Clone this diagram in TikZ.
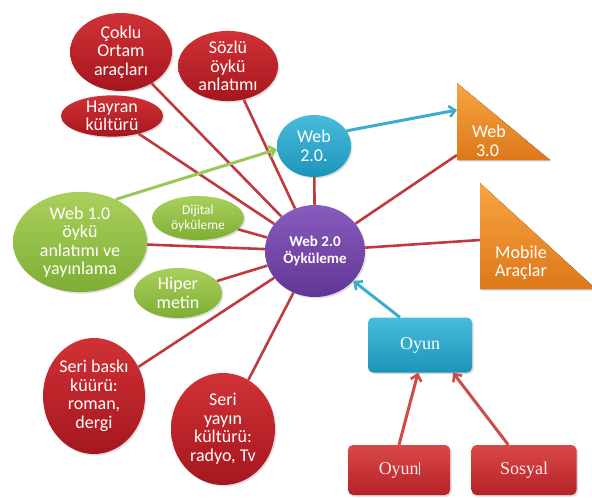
\documentclass[tikz,border=0pt]{standalone}
\usepackage{fontspec}
\setmainfont{Carlito}
\newfontfamily\boxfont{Liberation Serif}
\usetikzlibrary{shapes.geometric,arrows.meta,backgrounds,shadows}

\definecolor{redtop}{RGB}{208,50,54}
\definecolor{redbot}{RGB}{166,22,30}
\definecolor{rboxtop}{RGB}{218,72,70}
\definecolor{rboxbot}{RGB}{180,34,40}
\definecolor{greentop}{RGB}{170,208,92}
\definecolor{greenbot}{RGB}{126,174,52}
\definecolor{bluetop}{RGB}{72,188,218}
\definecolor{bluebot}{RGB}{28,148,186}
\definecolor{purptop}{RGB}{136,92,190}
\definecolor{purpbot}{RGB}{98,54,148}
\definecolor{orgtop}{RGB}{248,164,66}
\definecolor{orgbot}{RGB}{222,120,26}
\definecolor{spoke}{RGB}{190,58,62}
\definecolor{greenarrow}{RGB}{150,200,90}
\definecolor{bluearrow}{RGB}{62,172,204}
\definecolor{redarrow}{RGB}{206,76,72}

\tikzset{
  bubble/.style={ellipse, inner sep=0pt, align=center, text=white,
    drop shadow={opacity=0.25, shadow xshift=1.5pt, shadow yshift=-1.5pt}},
  redbubble/.style={bubble, top color=redtop, bottom color=redbot},
  greenbubble/.style={bubble, top color=greentop, bottom color=greenbot},
  bluebubble/.style={bubble, top color=bluetop, bottom color=bluebot},
  hubbubble/.style={bubble, top color=purptop, bottom color=purpbot},
  tagbox/.style={rectangle, rounded corners=5pt, inner sep=0pt, text=white,
    font=\boxfont\fontsize{18}{20}\selectfont,
    drop shadow={opacity=0.3, shadow xshift=1.5pt, shadow yshift=-1.5pt}},
  bluebox/.style={tagbox, top color=bluetop, bottom color=bluebot},
  redbox/.style={tagbox, top color=rboxtop, bottom color=rboxbot, text=white!92!red},
  wedge/.style={top color=orgtop, bottom color=orgbot,
    drop shadow={opacity=0.25, shadow xshift=1.5pt, shadow yshift=-1.5pt}},
  bigtxt/.style={font=\fontsize{18}{18.5}\selectfont},
  midtxt/.style={font=\fontsize{18}{17.5}\selectfont},
  smalltxt/.style={font=\fontsize{13.5}{15}\selectfont},
  spokeline/.style={draw=spoke, line width=2.6pt},
  arrowline/.style={line width=3pt, -{Straight Barb[length=6pt,width=11pt,line width=2.6pt]}},
}

\begin{document}
\begin{tikzpicture}[x=1pt, y=-1pt]
  \useasboundingbox (0,0) rectangle (592,498);

  % hub and satellites
  \node[hubbubble, minimum width=100pt, minimum height=92pt,
        font=\bfseries\fontsize{15}{17}\selectfont] (hub) at (315,251) {Web 2.0\\Öyküleme};
  \node[redbubble, bigtxt, minimum width=102pt, minimum height=78pt] (coklu) at (121,52) {Çoklu\\Ortam\\araçları};
  \node[redbubble, bigtxt, minimum width=100pt, minimum height=64pt] (sozlu) at (228,66) {Sözlü\\öykü\\anlatımı};
  \node[redbubble, midtxt, minimum width=102pt, minimum height=38pt] (hayran) at (112,116) {Hayran\\kültürü};
  \node[bluebubble, bigtxt, minimum width=74pt, minimum height=62pt] (web2) at (314,146) {Web\\2.0.};
  \node[greenbubble, bigtxt, minimum width=134pt, minimum height=98pt] (web1) at (80,242) {Web 1.0\\öykü\\anlatımı ve\\yayınlama};
  \node[greenbubble, smalltxt, minimum width=92pt, minimum height=44pt] (dijital) at (198,218) {Dijital\\öyküleme};
  \node[greenbubble, bigtxt, minimum width=88pt, minimum height=50pt] (hiper) at (178,293) {Hiper\\metin};
  \node[redbubble, bigtxt, minimum width=102pt, minimum height=116pt] (baski) at (94,396) {Seri baskı\\küürü:\\roman,\\dergi};
  \node[redbubble, bigtxt, minimum width=104pt, minimum height=112pt] (yayin) at (223,429) {Seri\\yayın\\kültürü:\\radyo, Tv};

  % right-angled wedges
  \fill[wedge] (457,83) -- (457,160) -- (550,160) -- cycle;
  \node[bigtxt, text=white, align=left] (web3) at (489,141) {Web\\\hspace*{4pt}3.0};
  \coordinate (web3arrow) at (457,110);
  \coordinate (web3spoke) at (457,155);

  \fill[wedge] (480,183) -- (480,289) -- (596,289) -- cycle;
  \node[midtxt, text=white, align=left] (mobile) at (521,263) {Mobile\\Araçlar};
  \coordinate (mobilespoke) at (480,240);

  % game boxes
  \node[bluebox, minimum width=104pt, minimum height=55pt] (oyun) at (420,345) {Oyun};
  \node[redbox, minimum width=102pt, minimum height=50pt] (oyunsrc) at (399,470)
       {Oyun\textcolor{white!80!gray}{\rule[-1pt]{0.5pt}{13pt}}};
  \node[redbox, minimum width=105pt, minimum height=50pt] (sosyal) at (524,470) {Sosyal};

  \begin{pgfonlayer}{background}
    \foreach \n in {coklu, sozlu, hayran, web2, web1, dijital, hiper, baski, yayin}
      \draw[spokeline] (hub) -- (\n);
    \draw[spokeline] (hub) -- (web3spoke);
    \draw[spokeline] (hub) -- (mobilespoke);
  \end{pgfonlayer}

  % arrows
  \draw[arrowline, draw=greenarrow] (web1.50) -- (web2.185);
  \draw[arrowline, draw=bluearrow] (web2.25) -- (web3arrow);
  \draw[arrowline, draw=bluearrow] (oyun.126) -- (hub);
  \draw[arrowline, draw=redarrow] (oyunsrc.north) -- (oyun.266);
  \draw[arrowline, draw=redarrow] (sosyal.122) -- (oyun.320);
\end{tikzpicture}
\end{document}
